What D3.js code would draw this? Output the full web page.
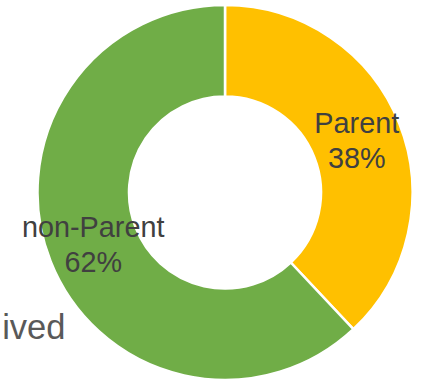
<!DOCTYPE html>
<html>
<head>
<meta charset="utf-8">
<script src="https://cdn.jsdelivr.net/npm/d3@7"></script>
<style>
  html, body { margin: 0; padding: 0; background: #ffffff; }
  svg { display: block; }
</style>
</head>
<body>
<svg id="chart" width="429" height="381"></svg>
<script>
// Share of respondents by group
const categories = ["Parent", "non-Parent"];
const values = [38, 62];
const colors = ["#FFC000", "#70AD47"];
const sideText = "ived";

const svg = d3.select("#chart");
const cx = 225, cy = 192.5;
const outerR = 187.5, innerR = 96;

const data = categories.map((c, i) => ({ name: c, value: values[i], color: colors[i] }));

const pie = d3.pie().value(d => d.value).sort(null);
const arc = d3.arc().innerRadius(innerR).outerRadius(outerR);
const labelArc = d3.arc().innerRadius(innerR).outerRadius(outerR);

const g = svg.append("g").attr("transform", `translate(${cx},${cy})`);

const arcs = pie(data);

g.selectAll("path.slice")
  .data(arcs)
  .enter().append("path")
  .attr("class", "slice")
  .attr("d", arc)
  .attr("fill", d => d.data.color)
  .attr("stroke", "#ffffff")
  .attr("stroke-width", 2.5)
  .attr("stroke-linejoin", "miter");

const total = d3.sum(values);
const labels = g.selectAll("text.label")
  .data(arcs)
  .enter().append("text")
  .attr("class", "label")
  .attr("text-anchor", "middle")
  .attr("font-family", "Liberation Sans, Arial, sans-serif")
  .attr("font-size", 28.8)
  .attr("fill", "#404040");

labels.append("tspan")
  .attr("x", d => labelArc.centroid(d)[0])
  .attr("y", d => labelArc.centroid(d)[1] - 7.75)
  .text(d => d.data.name);

labels.append("tspan")
  .attr("x", d => labelArc.centroid(d)[0])
  .attr("y", d => labelArc.centroid(d)[1] + 27.75)
  .text(d => Math.round(d.data.value / total * 100) + "%");

// Trailing piece of a caption running in from the left edge
svg.append("text")
  .attr("x", 65.5)
  .attr("y", 339)
  .attr("text-anchor", "end")
  .attr("font-family", "Liberation Sans, Arial, sans-serif")
  .attr("font-size", 34.5)
  .attr("fill", "#595959")
  .text(sideText);
</script>
</body>
</html>
